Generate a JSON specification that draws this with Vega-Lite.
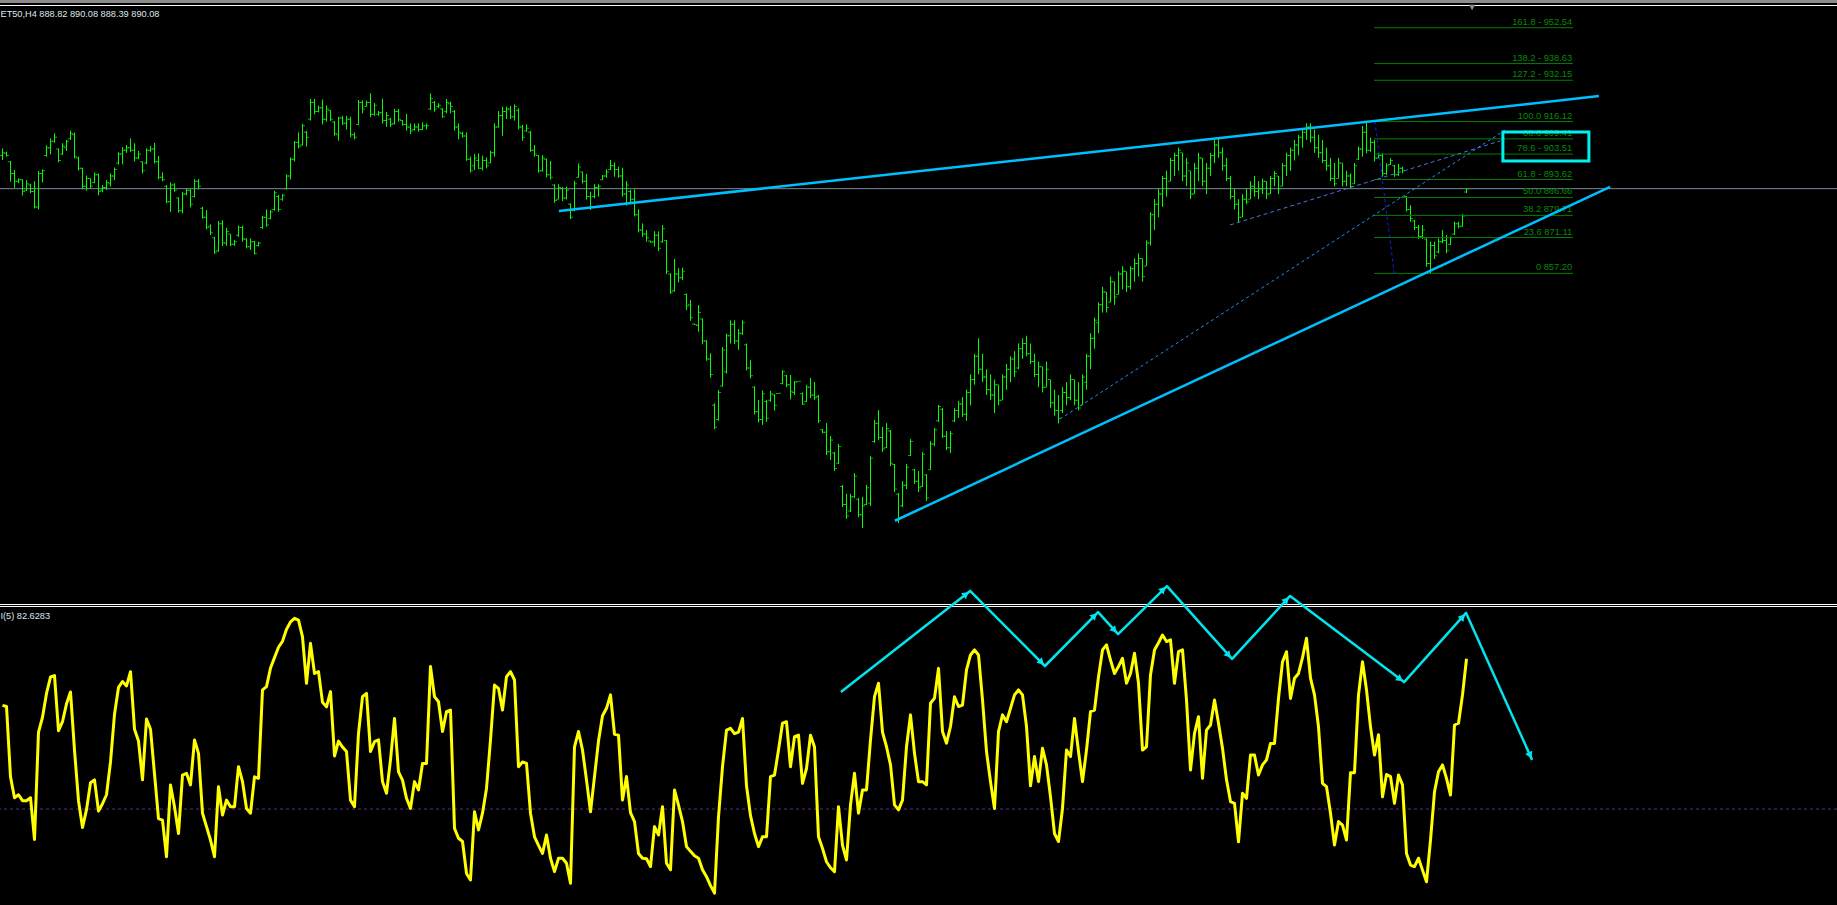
{
"$schema": "https://vega.github.io/schema/vega-lite/v6.json",
"background": "#000000",
"padding": 0,
"autosize": {"type": "pad"},
"bounds": "flush",
"spacing": 0,
"config": {"view": {"stroke": null}, "axis": {"disable": true}, "legend": {"disable": true}},
"data": {"format": {"type": "csv", "parse": {"i": "number", "o": "number", "h": "number", "l": "number", "c": "number", "r": "number"}}, "values": "i,o,h,l,c,r\n0,903,905.7,901.2,904,67\n1,903.8,904.4,902.5,903,66.6\n2,900.5,900.8,892.8,896,43\n3,896,897.3,890.4,893,36\n4,893,894.1,892.2,893.5,37\n5,893.5,893.7,887.4,889,35\n6,889.5,893.4,889.2,892,35\n7,891.5,891.9,888.3,889,36\n8,889,893,882.4,883,22\n9,883,896.9,882,896,58\n10,896,897.6,892.5,897,63\n11,903,906.9,902.5,906,71\n12,906,909.6,903.4,908.5,76.5\n13,908.5,911.6,907.9,910,77\n14,905.5,905.7,900.3,901,58.5\n15,903.5,907.7,903.1,906.5,61.5\n16,906,909,904.7,908.5,67.5\n17,909.5,912.6,909,911.5,71.5\n18,911,911.9,901.8,902.5,52\n19,902,902.5,897.1,898,35\n20,898,898.2,889.8,891,26\n21,891,895.2,889.3,894,32\n22,894,894.1,890.2,891,41\n23,892.5,896.4,892.2,895.5,42\n24,895.5,896,887.5,889,31.5\n25,889.5,891.5,888.7,890.5,34\n26,890.5,893.4,889.6,892.5,37\n27,892,896,890.9,895,48\n28,895,898.3,893.4,897.5,64\n29,900,904.2,899.4,903.5,73\n30,903.5,906.2,899.5,905,75\n31,905,907,904,906,73.5\n32,906,909.6,904.4,905,78.3\n33,905,907.7,900.6,902,59\n34,902,904.7,901.5,903.5,55\n35,900.5,900.7,896,897,42\n36,900,905.7,899.6,905,62.4\n37,905,906.6,904.4,905.5,59\n38,905.5,907.9,899.9,900.5,44\n39,900.5,902.8,893.7,894.5,29\n40,894.5,896.4,892.9,893.5,28.5\n41,891,891.4,884.4,885,16.2\n42,885,892.5,881.1,891.5,40.3\n43,891.5,892.2,888.9,889.5,33\n44,886.5,886.7,880.8,881.5,24\n45,881.5,888.8,880.5,888,43.6\n46,888,890.2,887.5,889.5,44.2\n47,889.5,889.9,882.8,884,40.3\n48,887,893.7,886.7,893,55.4\n49,893,893.8,889.8,891,50.9\n50,882.5,883,878.4,879,30.8\n51,879,881.8,874.3,875,26.3\n52,875.5,876.2,872.1,873,21.8\n53,871,871.4,864.7,865.5,16.2\n54,866,877.5,865.6,876.5,39.7\n55,876.5,877.8,867.8,869,30.2\n56,869,874.9,867.9,873.5,35.2\n57,872.5,872.5,867.8,868.5,33\n58,868.5,870.2,867.9,869.5,33\n59,872,875.8,871.4,875,46.4\n60,875,875.7,869.5,870.5,41.4\n61,870.5,870.8,866.9,867.5,32.4\n62,867.5,870.8,866.3,869.5,30.8\n63,869.5,869.8,864.5,865,43\n64,868,869.5,867.6,869,42.5\n65,875,879.5,874.4,879,72.2\n66,879,882,875.3,876,73.3\n67,878.5,881.8,878.2,881,79.5\n68,882,889.2,881.5,888.5,83\n69,887,887.6,881.1,882,86.5\n70,886,888,885.4,887.5,88.5\n71,890,895.6,889.8,895,92.5\n72,895,902.2,893.7,901.5,95\n73,901.5,908.6,900.6,908,96.2\n74,908,911.9,905.7,906.5,95.6\n75,907,915.2,906.8,914.5,90\n76,912,912.5,906.4,910,74.4\n77,917,924.9,916.5,923.5,87.8\n78,923.5,924.9,918.9,920,77.7\n79,920,922.3,919.7,921.5,78.3\n80,921.5,924.7,915,917,68\n81,917,922.4,916.1,921,66.5\n82,920.5,920.6,916.3,917,71.6\n83,916,916.3,910.6,911.5,50\n84,911,918,908.7,917.5,55\n85,917.5,918.3,914.8,915.5,53\n86,915.5,918.3,913.1,917,51.5\n87,917,918,910,911,35.2\n88,911,911.9,909.2,910,33\n89,915,924.5,914.8,923.5,57.6\n90,923.5,924.4,919.3,921,69.9\n91,922,924.2,921.9,923.5,71\n92,923.5,927.1,917.8,919,51.5\n93,919,923.3,918.3,922.5,54.8\n94,919,920.2,918.4,919.5,55.4\n95,919.5,924.9,915.4,916.5,41.4\n96,916.5,919.8,914.1,918.5,37.5\n97,917,917.6,914.1,915,48.7\n98,915.5,921.1,915,920,62.6\n99,920,921,916.1,917,44.7\n100,916.5,916.7,914.5,915,41.9\n101,915,919.1,912.6,914,35.8\n102,914,915.4,911.2,912.5,32.4\n103,913,915.4,912.6,914,41.4\n104,914,915.4,912.2,913,38.6\n105,913,915.8,912.8,914.5,47.5\n106,914.5,915.4,913.1,914.5,47.5\n107,921,927,920.6,925,80\n108,923.5,924.1,919.9,921,69.9\n109,922,923.2,921.3,922.5,68.2\n110,921,921.3,917.6,918,58.2\n111,920,924.9,919.3,923.5,64.9\n112,923,923.8,919.3,922,65.4\n113,920,920.6,912.6,914,25.7\n114,914,915.4,909.2,912,22.4\n115,911.5,912.2,909.9,910.5,21.3\n116,910.5,911.9,900.9,901.5,10.6\n117,901.5,902.5,896.3,897,8.4\n118,899,903.5,897.3,902,31.3\n119,901,903.8,897.6,898,25.2\n120,898,902.9,897.1,901,30.8\n121,901,902.2,898,899,39.1\n122,900,904.8,899.9,904,55.4\n123,904,915.4,902.5,914,73.8\n124,914,920.2,913.8,918.5,72.7\n125,918.5,921.9,910.6,920,65.4\n126,920,921.9,917.1,921,76.6\n127,921,922.2,917.1,918,78.3\n128,918,922.8,916.5,922,75.5\n129,920.5,921.3,913.1,914,46.4\n130,914,914.8,908.7,910,48\n131,912.5,915,912.2,913.5,47.5\n132,912,912.5,904.4,905,30.8\n133,905,907,902.5,903.5,22.9\n134,903,903.1,896.3,897,20\n135,897,903.1,896.7,902,17.3\n136,901.5,901.8,894.5,895.5,23.5\n137,895.5,900.8,893.6,894.5,15.7\n138,891.5,891.8,884.6,885.5,11.2\n139,886,891.8,885.9,890.5,15.7\n140,890,890.7,885.3,886.5,15.7\n141,886.5,890.9,885.9,889.5,14\n142,884,884.4,878.3,879,7.3\n143,881.5,893.1,881.3,892,53.1\n144,894.5,899.9,894.3,898.5,58.2\n145,896.5,896.7,892.1,893,52\n146,893,895.8,885.9,887,41.9\n147,887,888.9,881.8,883,31.3\n148,887,891.8,886.3,890.5,43.1\n149,890.5,891.8,887,891,55\n150,893.5,895.4,893.4,895,63.5\n151,895,897.6,894.3,896.5,66\n152,897.5,901.2,897.3,899,70.5\n153,899,900.3,894.7,897.5,57.3\n154,897.5,898.6,894.3,895,57\n155,895,898.2,887,888,35.2\n156,888,893,883.5,891.5,43.1\n157,889,889.6,884.8,886,31\n158,886,889.8,879.3,880,28\n159,880,882.1,873.1,874,17.3\n160,874,876.6,871.4,872.5,15.7\n161,872.5,874,869.5,871,15.5\n162,869.8,869.9,869.1,869.3,12.9\n163,869.5,873.6,867.6,872,26.3\n164,872,873.4,865.9,867,23.5\n165,869.5,876,869.1,874.5,33\n166,870,870.1,856.9,858,14\n167,857,857.2,849.2,850,11.8\n168,850.5,862.8,850.1,857,38.6\n169,857,859.2,853.7,855.5,33.5\n170,855.5,859.4,854.6,858,28\n171,849,849.4,843,844.5,19.6\n172,845,846.9,838.8,840,18\n173,837.6,837.7,837.2,837.3,16.5\n174,837,844.9,834.6,842,15.7\n175,839.5,839.7,829.7,831,11.8\n176,831,831.3,823.3,824,9.5\n177,824,826.2,816.7,818,6.5\n178,806,806.8,796.7,797.5,4\n179,800.5,811.9,800,811,29.6\n180,813.5,828.6,813.2,827.5,46.4\n181,819,833.8,818.3,833,58.7\n182,833,839,830,837.5,59.3\n183,837.5,839,829.8,831,57.5\n184,831,835.6,827.5,834,58\n185,834,839,833.3,838,62.6\n186,829.5,830,819.6,820.5,40\n187,820.5,823.5,816.5,817.5,30\n188,813,813.4,802.5,803.5,24\n189,803.5,808.1,799.4,800.5,19.6\n190,800.5,811.8,798.4,810.5,22.9\n191,807.5,808.1,799.6,801,22.9\n192,808,811.6,807.4,810.5,43.1\n193,810,810.3,804,806,43.6\n194,810.6,810.8,810.5,810.7,52\n195,814.5,819.7,814.1,819,61\n196,817.5,817.8,813,814,61.5\n197,814,817.8,808.3,811.5,46.4\n198,811,815.4,810,815,56.5\n199,815.2,815.4,815.2,815.3,57\n200,810.5,811,806.1,806.5,40.8\n201,807.5,813.9,807.3,813,45.8\n202,813,816.6,808.8,810,57\n203,810,815.1,808.1,809,53\n204,809.5,810,799.1,800,22.9\n205,796.5,796.8,795.2,795.5,19\n206,795.5,799.1,786.7,788,14.5\n207,788,794.1,784.8,792.5,12.5\n208,787.5,787.9,780.5,781.5,11.2\n209,783.5,791,783.2,790,33\n210,774.5,775.1,766.5,767.5,20\n211,767.5,771.6,761.9,763,15.1\n212,765,771.6,764.6,770.5,33.6\n213,770.5,779.7,770,778.5,44.2\n214,769.5,770,762.6,763.5,30.8\n215,763.5,770.4,758.4,767,38.6\n216,767.5,775.1,767.3,774,38.6\n217,768,786.3,766.9,785.5,55.4\n218,792,800.3,791.4,799,69.9\n219,799,804.2,792.5,793.5,74.4\n220,793.5,797.6,787.9,789,58\n221,789.5,799.1,789.4,797,53.1\n222,796,796.4,782.4,783.5,47\n223,783,783.2,772.3,773.5,33.6\n224,771.5,772,760.3,762,31.9\n225,767,776.6,766.5,775,35.2\n226,775,783.2,773.5,782,53.1\n227,786.5,792.9,786.3,792,63.8\n228,781,781.3,775.5,776.5,50.9\n229,776.5,780.5,772.3,774,41.4\n230,774.5,787.9,774.3,787,41.4\n231,779,779.3,768.9,770,40.3\n232,781,792.1,780.9,791,67.7\n233,791,797.2,790.2,796.5,69.4\n234,800,806.1,799.5,805.5,79.4\n235,804.5,804.9,793.3,794,58.2\n236,794,796,788.6,789.5,54.3\n237,789.5,796,787.5,795,59.9\n238,800,804.9,799.5,804,69.9\n239,804,807.7,801.1,806.5,66.6\n240,806.5,809.2,801.5,802.5,67.1\n241,802.5,812,800,811,78.9\n242,811,818,806,816,83.9\n243,816,826,814,825,85.6\n244,825,832,818,820,83.9\n245,820,826,815,817,68.8\n246,817,820,810,812,51.5\n247,812,818,808,810,41.4\n248,810,816,803,814,32.4\n249,814,814,806,808,58.2\n250,808,818,808,817,63.8\n251,817,822,812,820,61.5\n252,820,825,815,824,66\n253,824,827,817,819,70.5\n254,820.5,830,820,828,72.2\n255,828,832,824,830,70.5\n256,830,833,825,826,59.9\n257,826,830,822,823,40\n258,823,826,817,818,49.8\n259,818,823,813,821,41.4\n260,821,821,811,813,52.6\n261,813,823,813,820,47\n262,816,816,805,807,36.3\n263,807,812,802,804,24\n264,804,810,799,801,21.3\n265,804,813,803,811,32.4\n266,811,815,806,809,52\n267,809,818,808,816,49.8\n268,816,816,806,808,62.6\n269,808,815,804,805,51.5\n270,806,818,806,817,41.4\n271,815,826,812,825,52\n272,825,834,820,832,64.9\n273,832,840,828,839,65.4\n274,838,846,834,845,76.6\n275,845,852,842,850,85.6\n276,850,850,842,844,87.3\n277,846,856,846,854,82.2\n278,854,854,845,848,77.7\n279,849,858,849,857,80\n280,857,860,851,858,82.8\n281,858,858,850,852,74.4\n282,852,860,851,859,77.7\n283,859,863,854,861,84.5\n284,861,865,856,863,74.4\n285,863,863,854,856,52\n286,860,870,860,869,53.1\n287,869,881,868,880,77.2\n288,880,886,874,884,85.6\n289,884,890,879,888,88\n290,888,895,883,894,90.6\n291,894,897,887,890,88.4\n292,893,902,893,901,89\n293,901,904,895,903,74.4\n294,903,906,897,905,85\n295,904,904,893,895,85.6\n296,895,902,891,900,68.8\n297,897,897,886,888,45.3\n298,888,900,888,898,57.6\n299,898,904,893,902,63.2\n300,902,902,891,893,42.5\n301,893,900,888,898,58.7\n302,898,904,895,903,60.4\n303,903,909,900,907,68.8\n304,907,910,902,904,61\n305,904,906,897,899,52.6\n306,899,902,893,894,42\n307,894,895,886,887,34.7\n308,887,890,882,884,34.1\n309,884,886,877,879,21.2\n310,879,888,879,886,37.5\n311,886,890,884,885,35.8\n312,886,893,886,891,50.3\n313,891,895,887,889,50.3\n314,889,893,886,890,43.6\n315,890,894,888,893,47\n316,893,893,886,888,48.7\n317,888,895,888,894,54.2\n318,894,897,891,896,54.2\n319,895,895,888,890,69.3\n320,891,900,891,899,81.6\n321,899,904,895,903,85\n322,903,906,897,905,69.3\n323,905,909,901,907,76.1\n324,907,911,903,910,77.7\n325,910,913,906,912,83\n326,912,915.5,909,914,89.5\n327,914,915.5,908,910,76.1\n328,910,913,904,906,70.5\n329,906,911,902,904,59.8\n330,904,909,900,901,40.8\n331,901,906,897,899,39.7\n332,899,902,893,894,30.8\n333,894,900,891,892,20.1\n334,894,902,894,900,28\n335,900,900,891,893,26.8\n336,893,897,891,895,21.8\n337,895,896,890.2,891,44.4\n338,892,900,892,899,44.4\n339,901.5,906.4,901.2,905.5,70.5\n340,905.5,914.4,902.5,912,81.6\n341,912,916.1,903.8,905,72.2\n342,905,909.9,904.4,908,59.8\n343,908,909,900.6,902,50.3\n344,902,904,901.9,903,57.1\n345,903,903.8,894.7,896,36.3\n346,896,899.9,895.4,899,43.8\n347,899.5,901.9,899.3,901,43.1\n348,899,899.3,894.7,895.5,34.1\n349,895.5,899.7,895,898,43.6\n350,898,898.6,896,897,40.3\n351,887,887.2,881.2,882,17.3\n352,882,883.7,877.3,878.5,13.4\n353,877.5,877.9,874,875,12.9\n354,875,876,870.6,871.5,15.7\n355,871.5,876,870.6,874,11.7\n356,870.5,870.8,859.8,861,7.8\n357,861,869.5,857.2,868,21.8\n358,868,869.5,862.8,864,38\n359,865.5,870.8,865,869.5,44.7\n360,869.5,874,868.9,870,47\n361,870,872.1,865,866,42.5\n362,868.5,871.5,868.2,871,36.9\n363,872.5,877.3,872.1,876.5,60.4\n364,876.5,877.3,874.7,875.5,61\n365,875.5,880.2,875.3,879.5,70.5\n366,888.82,890.08,888.39,890.08,82.63"},
"vconcat": [
{
 "width": 1837, "height": 603,
 "layer": [
  {"data": {"values": [{}]}, "mark": {"type": "rule", "color": "#8c8c8c", "strokeWidth": 3, "clip": true}, "encoding": {"y": {"datum": 962.72, "type": "quantitative", "scale": {"domain": [729.28, 963.3], "nice": false, "zero": false}}}},
  {"data": {"values": [{}]}, "mark": {"type": "rule", "color": "#ffffff", "strokeWidth": 1, "clip": true}, "encoding": {"y": {"datum": 961.17, "type": "quantitative", "scale": {"domain": [729.28, 963.3], "nice": false, "zero": false}}}},
  {"data": {"values": [{}]}, "mark": {"type": "rule", "color": "#778899", "strokeWidth": 1, "clip": true}, "encoding": {"y": {"datum": 890.08, "type": "quantitative", "scale": {"domain": [729.28, 963.3], "nice": false, "zero": false}}}},
  {"mark": {"type": "rule", "color": "#00ff00", "strokeWidth": 1, "clip": true}, "encoding": {"x": {"field": "i", "type": "quantitative", "scale": {"domain": [-0.625, 458.625], "nice": false, "zero": false}}, "y": {"field": "l", "type": "quantitative", "scale": {"domain": [729.28, 963.3], "nice": false, "zero": false}}, "y2": {"field": "h"}}},
  {"mark": {"type": "tick", "orient": "horizontal", "color": "#00ff00", "size": 2, "thickness": 1, "xOffset": -1.5, "clip": true}, "encoding": {"x": {"field": "i", "type": "quantitative", "scale": {"domain": [-0.625, 458.625], "nice": false, "zero": false}}, "y": {"field": "o", "type": "quantitative", "scale": {"domain": [729.28, 963.3], "nice": false, "zero": false}}}},
  {"mark": {"type": "tick", "orient": "horizontal", "color": "#00ff00", "size": 2, "thickness": 1, "xOffset": 1.5, "clip": true}, "encoding": {"x": {"field": "i", "type": "quantitative", "scale": {"domain": [-0.625, 458.625], "nice": false, "zero": false}}, "y": {"field": "c", "type": "quantitative", "scale": {"domain": [729.28, 963.3], "nice": false, "zero": false}}}},
  {"data": {"values": [{"p": 857.2, "t": "0 857.20"}, {"p": 871.11, "t": "23.6 871.11"}, {"p": 879.71, "t": "38.2 879.71"}, {"p": 886.66, "t": "50.0 886.66"}, {"p": 893.62, "t": "61.8 - 893.62"}, {"p": 903.51, "t": "78.6 - 903.51"}, {"p": 909.41, "t": "88.6 909.41"}, {"p": 916.12, "t": "100.0 916.12"}, {"p": 932.15, "t": "127.2 - 932.15"}, {"p": 938.63, "t": "138.2 - 938.63"}, {"p": 952.54, "t": "161.8 -  952.54"}]},
   "layer": [
    {"mark": {"type": "rule", "color": "#008000", "strokeWidth": 1, "clip": true}, "encoding": {"x": {"datum": 342.9, "type": "quantitative", "scale": {"domain": [-0.625, 458.625], "nice": false, "zero": false}}, "x2": {"datum": 392.6}, "y": {"field": "p", "type": "quantitative", "scale": {"domain": [729.28, 963.3], "nice": false, "zero": false}}}},
    {"mark": {"type": "text", "color": "#0a8a0a", "align": "right", "baseline": "alphabetic", "dy": -3, "font": "Liberation Sans", "fontSize": 9.3, "clip": true}, "encoding": {"x": {"datum": 392.4, "type": "quantitative", "scale": {"domain": [-0.625, 458.625], "nice": false, "zero": false}}, "y": {"field": "p", "type": "quantitative", "scale": {"domain": [729.28, 963.3], "nice": false, "zero": false}}, "text": {"field": "t"}}}
   ]},
  {"data": {"values": [{"x1": 343.1, "y1": 916.12, "x2": 347.95, "y2": 857.2}]}, "mark": {"type": "rule", "color": "#1a1aff", "strokeWidth": 1, "strokeDash": [3, 3], "clip": true}, "encoding": {"x": {"field": "x1", "type": "quantitative", "scale": {"domain": [-0.625, 458.625], "nice": false, "zero": false}}, "y": {"field": "y1", "type": "quantitative", "scale": {"domain": [729.28, 963.3], "nice": false, "zero": false}}, "x2": {"field": "x2"}, "y2": {"field": "y2"}}},
  {"data": {"values": [{"x1": 264.4, "y1": 800.7, "x2": 375.6, "y2": 912.8}]}, "mark": {"type": "rule", "color": "#1e90ff", "strokeWidth": 1, "strokeDash": [3, 3], "clip": true}, "encoding": {"x": {"field": "x1", "type": "quantitative", "scale": {"domain": [-0.625, 458.625], "nice": false, "zero": false}}, "y": {"field": "y1", "type": "quantitative", "scale": {"domain": [729.28, 963.3], "nice": false, "zero": false}}, "x2": {"field": "x2"}, "y2": {"field": "y2"}}},
  {"data": {"values": [{"x1": 306.9, "y1": 876.0, "x2": 374.4, "y2": 908.6}]}, "mark": {"type": "rule", "color": "#4f6fe0", "strokeWidth": 1, "strokeDash": [4, 3], "clip": true}, "encoding": {"x": {"field": "x1", "type": "quantitative", "scale": {"domain": [-0.625, 458.625], "nice": false, "zero": false}}, "y": {"field": "y1", "type": "quantitative", "scale": {"domain": [729.28, 963.3], "nice": false, "zero": false}}, "x2": {"field": "x2"}, "y2": {"field": "y2"}}},
  {"data": {"values": [{"x1": 139.1, "y1": 881.4, "x2": 399.1, "y2": 926.0}, {"x1": 223.1, "y1": 761.2, "x2": 401.9, "y2": 890.8}]}, "mark": {"type": "rule", "color": "#00bfff", "strokeWidth": 2.5, "clip": true}, "encoding": {"x": {"field": "x1", "type": "quantitative", "scale": {"domain": [-0.625, 458.625], "nice": false, "zero": false}}, "y": {"field": "y1", "type": "quantitative", "scale": {"domain": [729.28, 963.3], "nice": false, "zero": false}}, "x2": {"field": "x2"}, "y2": {"field": "y2"}}},
  {"data": {"values": [{"x1": 375.1, "y1": 900.8, "x2": 396.6, "y2": 912.1}]}, "mark": {"type": "rect", "fill": null, "fillOpacity": 0, "stroke": "#00f0f0", "strokeWidth": 3, "clip": true}, "encoding": {"x": {"field": "x1", "type": "quantitative", "scale": {"domain": [-0.625, 458.625], "nice": false, "zero": false}}, "y": {"field": "y1", "type": "quantitative", "scale": {"domain": [729.28, 963.3], "nice": false, "zero": false}}, "x2": {"field": "x2"}, "y2": {"field": "y2"}}},
  {"data": {"values": [{}]}, "mark": {"type": "point", "shape": "triangle-down", "filled": true, "color": "#8c8c8c", "size": 40, "opacity": 1, "clip": true}, "encoding": {"x": {"datum": 367.4, "type": "quantitative", "scale": {"domain": [-0.625, 458.625], "nice": false, "zero": false}}, "y": {"datum": 960.4, "type": "quantitative", "scale": {"domain": [729.28, 963.3], "nice": false, "zero": false}}}},
  {"data": {"values": [{}]}, "mark": {"type": "text", "align": "left", "baseline": "alphabetic", "color": "#dfe7ef", "font": "Liberation Sans", "fontSize": 9.2, "clip": true}, "encoding": {"x": {"datum": -0.5, "type": "quantitative", "scale": {"domain": [-0.625, 458.625], "nice": false, "zero": false}}, "y": {"datum": 956.7, "type": "quantitative", "scale": {"domain": [729.28, 963.3], "nice": false, "zero": false}}, "text": {"value": "ET50,H4  888.82 890.08 888.39 890.08"}}}
 ]
},
{
 "width": 1837, "height": 302,
 "layer": [
  {"data": {"values": [{"v": 100.84}, {"v": 100.17}]}, "mark": {"type": "rule", "color": "#ffffff", "strokeWidth": 1, "clip": true}, "encoding": {"y": {"field": "v", "type": "quantitative", "scale": {"domain": [0, 101.34], "nice": false, "zero": false}}}},
  {"data": {"values": [{}]}, "mark": {"type": "rule", "color": "#5b2d8e", "strokeWidth": 1, "strokeDash": [3, 3], "clip": true}, "encoding": {"y": {"datum": 32.2, "type": "quantitative", "scale": {"domain": [0, 101.34], "nice": false, "zero": false}}}},
  {"mark": {"type": "line", "color": "#ffff00", "strokeWidth": 3, "strokeJoin": "round", "clip": true}, "encoding": {"x": {"field": "i", "type": "quantitative", "scale": {"domain": [-0.625, 458.625], "nice": false, "zero": false}}, "y": {"field": "r", "type": "quantitative", "scale": {"domain": [0, 101.34], "nice": false, "zero": false}}}},
  {"data": {"values": [{"i": 209.6, "v": 71.5}, {"i": 241.9, "v": 105.4}, {"i": 260.6, "v": 80.2}, {"i": 273.9, "v": 98.3}, {"i": 278.9, "v": 90.9}, {"i": 291.1, "v": 107.0}, {"i": 307.4, "v": 82.6}, {"i": 321.9, "v": 103.7}, {"i": 350.4, "v": 74.8}, {"i": 365.9, "v": 98.0}, {"i": 382.4, "v": 48.7}]}, "mark": {"type": "line", "color": "#00e5ee", "strokeWidth": 2.5, "strokeJoin": "round"}, "encoding": {"x": {"field": "i", "type": "quantitative", "scale": {"domain": [-0.625, 458.625], "nice": false, "zero": false}}, "y": {"field": "v", "type": "quantitative", "scale": {"domain": [0, 101.34], "nice": false, "zero": false}}}},
  {"data": {"values": [{"i": 240.9, "v": 104.3, "a": 51.9}, {"i": 259.75, "v": 81.4, "a": 135}, {"i": 273.0, "v": 97.1, "a": 44.5}, {"i": 278.0, "v": 92.2, "a": 137.7}, {"i": 290.2, "v": 105.9, "a": 45.6}, {"i": 306.55, "v": 83.8, "a": 138.3}, {"i": 321.0, "v": 102.4, "a": 42.6}, {"i": 349.4, "v": 75.8, "a": 127}, {"i": 365.05, "v": 96.7, "a": 42}, {"i": 381.9, "v": 50.2, "a": 155.8}]}, "mark": {"type": "point", "shape": "triangle-up", "filled": true, "color": "#00e5ee", "size": 60, "opacity": 1}, "encoding": {"x": {"field": "i", "type": "quantitative", "scale": {"domain": [-0.625, 458.625], "nice": false, "zero": false}}, "y": {"field": "v", "type": "quantitative", "scale": {"domain": [0, 101.34], "nice": false, "zero": false}}, "angle": {"field": "a", "type": "quantitative", "scale": {"domain": [0, 360], "range": [0, 360]}}}},
  {"data": {"values": [{}]}, "mark": {"type": "text", "align": "left", "baseline": "alphabetic", "color": "#dfe7ef", "font": "Liberation Sans", "fontSize": 9.2, "clip": true}, "encoding": {"x": {"datum": -0.5, "type": "quantitative", "scale": {"domain": [-0.625, 458.625], "nice": false, "zero": false}}, "y": {"datum": 96.0, "type": "quantitative", "scale": {"domain": [0, 101.34], "nice": false, "zero": false}}, "text": {"value": "I(5) 82.6283"}}}
 ]
}
]
}
